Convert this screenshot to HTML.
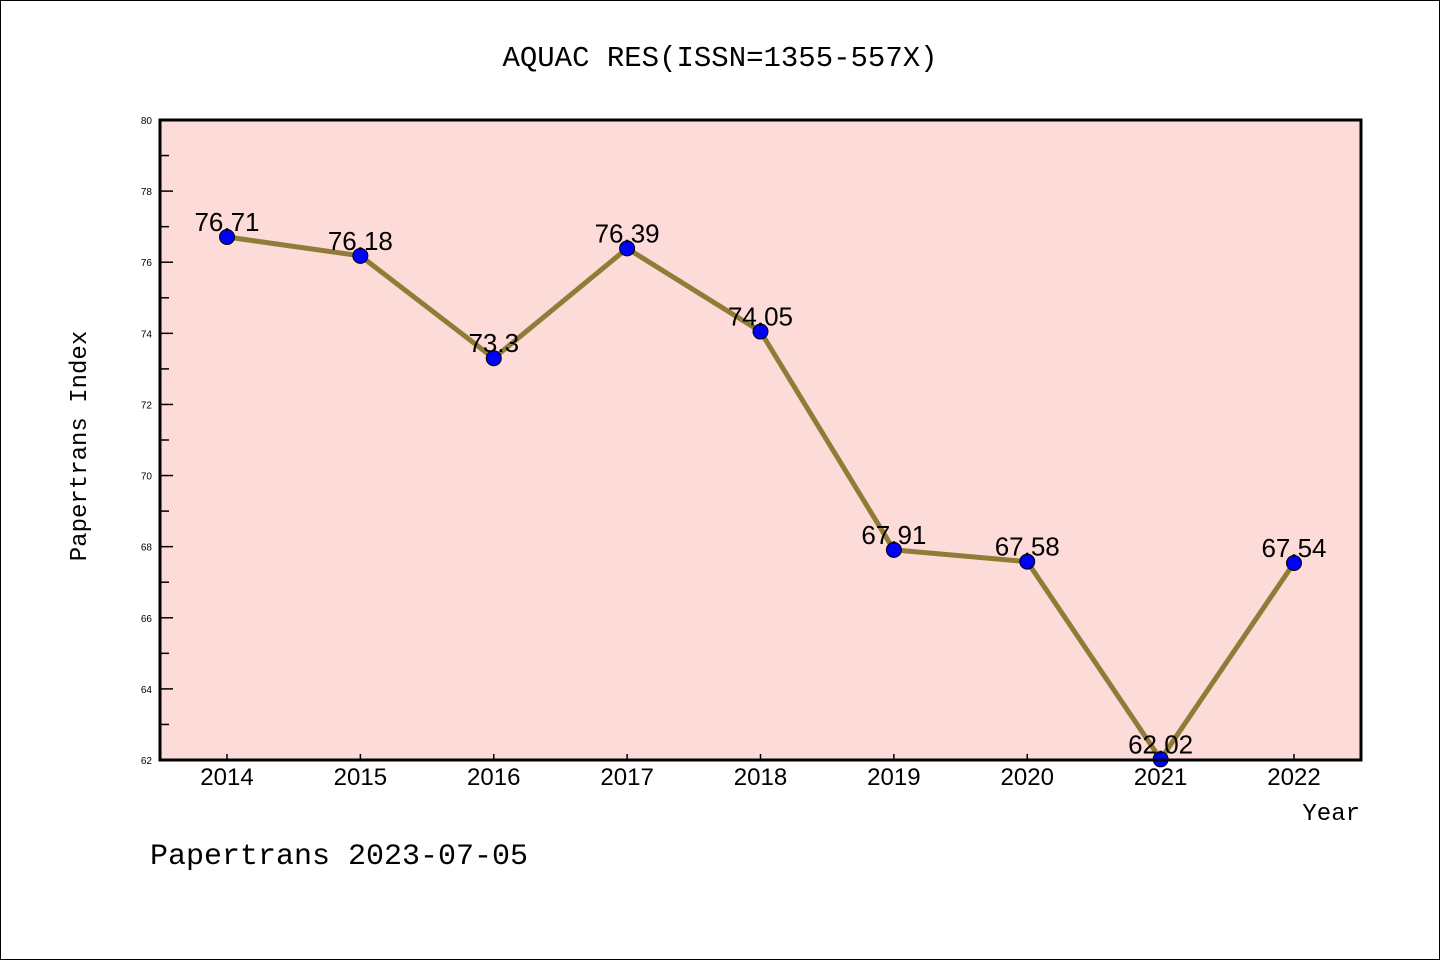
<!DOCTYPE html>
<html><head><meta charset="utf-8"><style>
body{margin:0;background:#fff}
svg{display:block;font-family:"Liberation Sans","Noto Sans CJK SC",sans-serif}
</style></head><body>
<svg id="chart" width="1440" height="960" viewBox="0 0 1440 960">
<rect x="0.5" y="0.5" width="1439" height="959" fill="#fff" stroke="#000"/>
<text x="720" y="66" font-size="29" text-anchor="middle" font-family="'Liberation Mono','Noto Sans CJK SC',monospace">AQUAC RES(ISSN=1355-557X)</text>
<rect x="160" y="120" width="1201" height="640" fill="#fddbd8"/>
<g id="axes"></g>
<g id="marks"></g>
<rect x="160" y="120" width="1201" height="640" fill="none" stroke="#000" stroke-width="3"/>
<text x="86" y="446" font-size="24" text-anchor="middle" transform="rotate(-90 86 446)" font-family="'Liberation Mono',monospace">Papertrans Index</text>
<text x="1360" y="820" font-size="24" text-anchor="end" font-family="'Liberation Mono',monospace">Year</text>
<text x="150" y="864" font-size="30" font-family="'Liberation Mono',monospace">Papertrans 2023-07-05</text>
</svg>
<script>
const years=["2014","2015","2016","2017","2018","2019","2020","2021","2022"];
const values=[76.71,76.18,73.3,76.39,74.05,67.91,67.58,62.02,67.54];
const labels=["76.71","76.18","73.3","76.39","74.05","67.91","67.58","62.02","67.54"];
const yTicks=[62,64,66,68,70,72,74,76,78,80];
{
const NS="http://www.w3.org/2000/svg";
const yMin=62,yMax=80,plotTop=120,plotBot=760;
function yScale(v){return plotBot-(v-yMin)/(yMax-yMin)*(plotBot-plotTop);}
function xScale(i){return 227+i*(1294-227)/(years.length-1);}
function mk(t,a,p){const e=document.createElementNS(NS,t);for(const k in a)e.setAttribute(k,a[k]);p.appendChild(e);return e;}
const ax=document.getElementById('axes'),mg=document.getElementById('marks');
for(let v=yMin;v<yMax;v++){
  const major=yTicks.includes(v);
  const t=mk('line',{x1:160,x2:major?173:169,y1:yScale(v),y2:yScale(v),stroke:'#000','stroke-width':1.5},ax);
  
  
}
yTicks.forEach(v=>{
  const t=mk('text',{x:152,y:yScale(v)+4,'font-size':10,'text-anchor':'end'},ax);
  t.textContent=v;
  
  
});
years.forEach((yr,i)=>{
  const t=mk('line',{x1:xScale(i),x2:xScale(i),y1:760,y2:754,stroke:'#000','stroke-width':1.5},ax);
  
  
  const l=mk('text',{x:xScale(i),y:785,'font-size':24,'text-anchor':'middle'},ax);
  l.textContent=yr;
  
  
});
const line=mk('polyline',{points:values.map((v,i)=>xScale(i)+','+yScale(v)).join(' '),fill:'none',stroke:'#8f7c37','stroke-width':5,'stroke-linejoin':'round'},mg);


values.forEach((v,i)=>{
  const c=mk('circle',{cx:xScale(i),cy:yScale(v),r:7.5,fill:'#0000ff',stroke:'#000','stroke-width':1},mg);
  
  
  const t=mk('text',{x:xScale(i),y:yScale(v)-6,'font-size':26,'text-anchor':'middle'},mg);
  t.textContent=labels[i];
  
  
});
}
</script>
</body></html>
